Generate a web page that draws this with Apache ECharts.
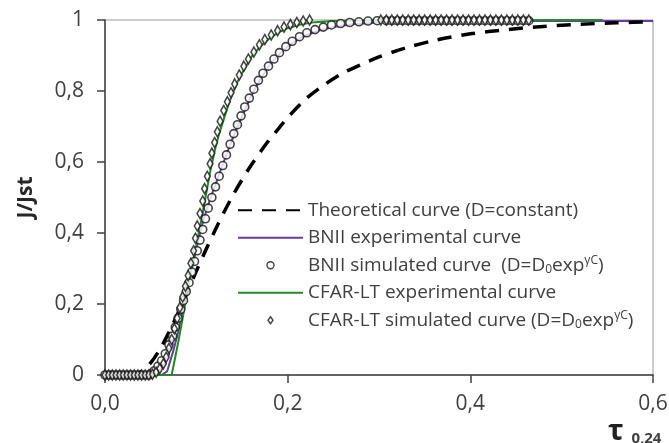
<!DOCTYPE html>
<html>
<head>
<meta charset="utf-8">
<script src="https://cdn.jsdelivr.net/npm/echarts@6/dist/echarts.min.js"></script>
<style>
  html, body { margin: 0; padding: 0; background: #fff; }
  #chart { width: 669px; height: 443px; }
</style>
</head>
<body>
<div id="chart"></div>
<script>
// Permeation transients: normalised flux J/Jst versus reduced time tau.

// Theoretical transient for a constant diffusion coefficient
const theoreticalCurve = [
  [0, 0], [0.02, 0], [0.03, 0.001], [0.04, 0.01], [0.05, 0.034], [0.06, 0.072],
  [0.07, 0.12], [0.08, 0.175], [0.09, 0.234], [0.10, 0.293], [0.11, 0.35],
  [0.12, 0.405], [0.13, 0.457], [0.14, 0.506], [0.15, 0.55], [0.16, 0.591],
  [0.17, 0.628], [0.18, 0.663], [0.19, 0.694], [0.20, 0.725], [0.22, 0.778],
  [0.24, 0.817], [0.26, 0.85], [0.28, 0.874], [0.30, 0.896], [0.33, 0.922],
  [0.36, 0.942], [0.40, 0.961], [0.44, 0.973], [0.48, 0.982], [0.52, 0.988],
  [0.56, 0.992], [0.60, 0.995]
];

// BNII measured transient
const bniiExperimental = [
  [0, 0], [0.062, 0], [0.068, 0.01], [0.075, 0.07], [0.08, 0.12], [0.085, 0.18],
  [0.09, 0.245], [0.095, 0.3], [0.10, 0.355], [0.105, 0.41], [0.11, 0.455],
  [0.115, 0.495], [0.12, 0.53], [0.125, 0.565], [0.13, 0.6], [0.135, 0.635],
  [0.14, 0.668], [0.145, 0.698], [0.15, 0.728], [0.155, 0.757], [0.16, 0.785],
  [0.165, 0.81], [0.17, 0.833], [0.18, 0.872], [0.19, 0.902], [0.20, 0.925],
  [0.21, 0.943], [0.22, 0.957], [0.235, 0.971], [0.25, 0.98], [0.27, 0.988],
  [0.30, 0.993], [0.35, 0.996], [0.40, 0.997], [0.60, 0.997]
];

// BNII simulated transient, D = D0 exp(gamma C)
const bniiSimulated = [
  [0, 0], [0.004, 0], [0.008, 0], [0.012, 0], [0.016, 0], [0.02, 0], [0.024, 0],
  [0.028, 0], [0.032, 0], [0.036, 0], [0.04, 0], [0.044, 0], [0.048, 0],
  [0.051, 0.005], [0.054, 0.012], [0.058, 0.025], [0.062, 0.04], [0.066, 0.06],
  [0.07, 0.085], [0.074, 0.11], [0.077, 0.135], [0.08, 0.16], [0.083, 0.185],
  [0.086, 0.21], [0.089, 0.235], [0.092, 0.26], [0.095, 0.29], [0.098, 0.32],
  [0.101, 0.35], [0.104, 0.38], [0.107, 0.41], [0.11, 0.44], [0.113, 0.47],
  [0.117, 0.5], [0.121, 0.53], [0.125, 0.56], [0.129, 0.59], [0.133, 0.62],
  [0.137, 0.65], [0.141, 0.68], [0.145, 0.705], [0.149, 0.73], [0.153, 0.755],
  [0.158, 0.78], [0.163, 0.805], [0.168, 0.83], [0.173, 0.85], [0.179, 0.87],
  [0.185, 0.89], [0.191, 0.908], [0.198, 0.925], [0.205, 0.94], [0.213, 0.953],
  [0.221, 0.964], [0.23, 0.973], [0.239, 0.98], [0.248, 0.986], [0.258, 0.99],
  [0.268, 0.993], [0.278, 0.995], [0.288, 0.997], [0.298, 0.998], [0.308, 0.998],
  [0.314, 0.998], [0.32, 0.998], [0.326, 0.998], [0.332, 0.998], [0.338, 0.998],
  [0.344, 0.998], [0.35, 0.998], [0.356, 0.998], [0.362, 0.998], [0.368, 0.998],
  [0.374, 0.998], [0.38, 0.998], [0.386, 0.998], [0.392, 0.998], [0.398, 0.998],
  [0.404, 0.998], [0.41, 0.998], [0.416, 0.998], [0.422, 0.998], [0.428, 0.998],
  [0.434, 0.998], [0.44, 0.998], [0.446, 0.998], [0.452, 0.998], [0.458, 0.998],
  [0.464, 0.998]
];

// CFAR-LT measured transient
const cfarExperimental = [
  [0, 0], [0.073, 0], [0.08, 0.09], [0.085, 0.16], [0.09, 0.23], [0.095, 0.3],
  [0.10, 0.365], [0.105, 0.43], [0.11, 0.5], [0.115, 0.57], [0.12, 0.63],
  [0.125, 0.68], [0.13, 0.72], [0.135, 0.76], [0.14, 0.795], [0.145, 0.825],
  [0.15, 0.85], [0.155, 0.872], [0.16, 0.895], [0.17, 0.925], [0.18, 0.948],
  [0.19, 0.965], [0.20, 0.977], [0.215, 0.988], [0.23, 0.994], [0.25, 0.997],
  [0.30, 0.999], [0.545, 1.0]
];

// CFAR-LT simulated transient, D = D0 exp(gamma C)
const cfarSimulated = [
  [0, 0], [0.004, 0], [0.008, 0], [0.012, 0], [0.016, 0], [0.02, 0], [0.024, 0],
  [0.028, 0], [0.032, 0], [0.036, 0], [0.04, 0], [0.044, 0], [0.048, 0],
  [0.052, 0.002], [0.056, 0.008], [0.06, 0.018], [0.064, 0.032], [0.067, 0.05],
  [0.07, 0.075], [0.073, 0.1], [0.076, 0.13], [0.079, 0.16], [0.082, 0.19],
  [0.085, 0.22], [0.088, 0.25], [0.091, 0.28], [0.094, 0.315], [0.097, 0.35],
  [0.099, 0.385], [0.101, 0.42], [0.104, 0.455], [0.107, 0.49], [0.109, 0.525],
  [0.112, 0.56], [0.115, 0.595], [0.117, 0.625], [0.12, 0.655], [0.123, 0.685],
  [0.126, 0.715], [0.13, 0.745], [0.134, 0.77], [0.138, 0.795], [0.142, 0.82],
  [0.147, 0.845], [0.152, 0.87], [0.157, 0.89], [0.163, 0.91], [0.169, 0.93],
  [0.175, 0.945], [0.182, 0.958], [0.189, 0.97], [0.196, 0.98], [0.203, 0.987],
  [0.21, 0.993], [0.217, 0.997], [0.224, 1.0], [0.23, 1.004], [0.236, 1.008],
  [0.242, 1.004], [0.248, 1.01], [0.254, 1.006], [0.26, 1.012], [0.266, 1.007],
  [0.272, 1.01], [0.278, 1.005], [0.284, 1.008], [0.29, 1.003], [0.296, 1.002],
  [0.302, 1.0], [0.308, 1.0], [0.314, 1.0], [0.32, 1.0], [0.326, 1.0],
  [0.332, 1.0], [0.338, 1.0], [0.344, 1.0], [0.35, 1.0], [0.356, 1.0],
  [0.362, 1.0], [0.368, 1.0], [0.374, 1.0], [0.38, 1.0], [0.386, 1.0],
  [0.392, 1.0], [0.398, 1.0], [0.404, 1.0], [0.41, 1.0], [0.416, 1.0],
  [0.422, 1.0], [0.428, 1.0], [0.434, 1.0], [0.44, 1.0], [0.446, 1.0],
  [0.452, 1.0], [0.458, 1.0], [0.464, 1.0]
];

// Axis tick labels (decimal comma)
const xTickLabels = { 0: '0,0', 0.2: '0,2', 0.4: '0,4', 0.6: '0,6' };
const yTickLabels = { 0: '0', 0.2: '0,2', 0.4: '0,4', 0.6: '0,6', 0.8: '0,8', 1: '1' };

const names = {
  theo: 'Theoretical curve (D=constant)',
  bniiExp: 'BNII experimental curve',
  bniiSim: 'BNII simulated curve  (D=D0expγC)',
  cfarExp: 'CFAR-LT experimental curve',
  cfarSim: 'CFAR-LT simulated curve (D=D0expγC)'
};

const legendText = {};
legendText[names.theo] = 'Theoretical curve (D=constant)';
legendText[names.bniiExp] = 'BNII experimental curve';
legendText[names.bniiSim] = 'BNII simulated curve  (D=D{sub|0}exp{sup|γC})';
legendText[names.cfarExp] = 'CFAR-LT experimental curve';
legendText[names.cfarSim] = 'CFAR-LT simulated curve (D=D{sub|0}exp{sup|γC})';

const FONT = 'Open Sans';
const TEXT = '#404040';
const MARK = '#151515';

// Diamond outline used both on the plot and in the legend
const DIAMOND = 'path://M0,-5L3.6,0L0,5L-3.6,0Z';

const chart = echarts.init(document.getElementById('chart'), null, { renderer: 'canvas' });

function key(v) { return Math.round(v * 10) / 10; }

chart.setOption({
  animation: false,
  backgroundColor: '#fff',
  grid: {
    left: 105, right: 16, top: 20, bottom: 68,
    containLabel: false, outerBoundsMode: 'none',
    show: true, borderColor: '#9a9a9a', borderWidth: 1, backgroundColor: 'transparent'
  },
  xAxis: {
    type: 'value', min: 0, max: 0.6, interval: 0.2,
    axisLine: { show: true, onZero: false, lineStyle: { color: '#404040', width: 1.5 } },
    axisTick: { show: true, length: 8, lineStyle: { color: '#404040', width: 1.5 } },
    splitLine: { show: false },
    axisLabel: {
      margin: 19, fontFamily: FONT, fontSize: 21, color: TEXT,
      formatter: v => xTickLabels[key(v)]
    },
    name: '{t|τ}{s|  0,24}',
    nameLocation: 'end',
    nameGap: -45,
    nameTextStyle: {
      align: 'left', verticalAlign: 'top', padding: [43, 0, 0, 0],
      rich: {
        t: { fontFamily: FONT, fontSize: 29, fontWeight: 'bold', color: '#222', lineHeight: 28 },
        s: { fontFamily: FONT, fontSize: 15, fontWeight: 'bold', color: TEXT, lineHeight: 28, verticalAlign: 'bottom' }
      }
    }
  },
  yAxis: {
    type: 'value', min: 0, max: 1, interval: 0.2,
    axisLine: { show: true, onZero: false, lineStyle: { color: '#404040', width: 1.5 } },
    axisTick: { show: true, length: 8, lineStyle: { color: '#404040', width: 1.5 } },
    splitLine: { show: false },
    axisLabel: {
      margin: 21, fontFamily: FONT, fontSize: 21, color: TEXT,
      formatter: v => yTickLabels[key(v)]
    },
    name: 'J/Jst',
    nameLocation: 'middle',
    nameRotate: 90,
    nameGap: 68,
    nameTextStyle: { fontFamily: FONT, fontSize: 21, fontWeight: 'bold', color: '#262626' }
  },
  legend: {
    orient: 'vertical',
    left: 232, top: 195,
    padding: 5,
    itemWidth: 65, itemHeight: 7, itemGap: 7,
    selectedMode: false,
    symbolKeepAspect: true,
    itemStyle: { borderWidth: 1.4 },
    data: [
      names.theo, names.bniiExp,
      { name: names.bniiSim, icon: 'circle' },
      names.cfarExp,
      { name: names.cfarSim, icon: DIAMOND }
    ],
    formatter: n => legendText[n],
    textStyle: {
      fontFamily: FONT, fontSize: 19, color: TEXT, lineHeight: 20.5,
      rich: {
        sub: { fontFamily: FONT, fontSize: 12, color: TEXT, lineHeight: 20.5, verticalAlign: 'bottom' },
        sup: { fontFamily: FONT, fontSize: 12, color: TEXT, lineHeight: 20.5, verticalAlign: 'top' }
      }
    }
  },
  series: [
    {
      name: names.bniiExp, type: 'line', data: bniiExperimental, showSymbol: false, z: 2,
      lineStyle: { color: '#6a3aa6', width: 2 }, itemStyle: { color: '#6a3aa6', opacity: 0 }
    },
    {
      name: names.cfarExp, type: 'line', data: cfarExperimental, showSymbol: false, z: 3,
      lineStyle: { color: '#1e8c1e', width: 2 }, itemStyle: { color: '#1e8c1e', opacity: 0 }
    },
    {
      name: names.theo, type: 'line', data: theoreticalCurve, showSymbol: false, z: 4, smooth: 0.3,
      lineStyle: { color: '#000', width: 3.5, type: [14, 10] }, itemStyle: { color: '#000', opacity: 0 }
    },
    {
      name: names.bniiSim, type: 'scatter', data: bniiSimulated, symbol: 'circle', symbolSize: 8, z: 5,
      itemStyle: { color: '#fff', borderColor: MARK, borderWidth: 1.6 }
    },
    {
      name: names.cfarSim, type: 'scatter', data: cfarSimulated, symbol: DIAMOND, symbolSize: [8, 10],
      symbolKeepAspect: true, z: 6,
      itemStyle: { color: '#fff', borderColor: MARK, borderWidth: 1.6 }
    }
  ]
});
</script>
</body>
</html>
